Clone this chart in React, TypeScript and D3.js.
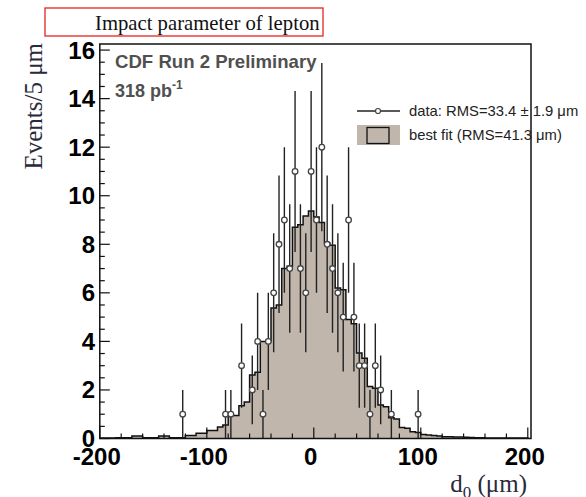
import React from "react";
import * as d3 from "d3";

const W = 586;
const H = 497;

// best-fit histogram: 5 um bins starting at -200
const fitLow = -200;
const binWidth = 5;
const fitValues = [
  0.02, 0.02, 0.02, 0.03, 0.03, 0.03, 0.1, 0.1, 0.03, 0.03,
  0.03, 0.1, 0.1, 0.03, 0.03, 0.03, 0.12, 0.12, 0.22, 0.22,
  0.33, 0.33, 0.47, 0.56, 0.95, 0.95, 1.35, 1.5, 2.62, 2.73,
  4.0, 4.0, 5.38, 5.5, 7.0, 7.1, 8.7, 8.8, 9.16, 9.37,
  9.12, 8.9, 8.05, 7.96, 6.2, 6.13, 4.9, 4.73, 3.52, 3.31,
  2.14, 2.07, 1.38, 1.31, 0.85, 0.8, 0.45, 0.42, 0.28, 0.25,
  0.16, 0.14, 0.12, 0.1, 0.07, 0.07, 0.06, 0.06, 0.05, 0.04,
  0.03, 0.03, 0.02, 0.02, 0.02, 0.02, 0.02, 0.02, 0.02, 0.02,
];

// data points (bin centres, counts)
const dataCenters = [
  -122.5, -82.5, -77.5, -67.5, -57.5, -52.5, -47.5, -42.5, -37.5, -32.5,
  -27.5, -22.5, -17.5, -12.5, -7.5, -2.5, 2.5, 7.5, 12.5, 17.5,
  22.5, 27.5, 32.5, 37.5, 42.5, 47.5, 52.5, 57.5, 62.5, 72.5, 97.5,
];
const dataCounts = [
  1, 1, 1, 3, 2, 4, 1, 4, 6, 8,
  9, 7, 11, 7, 6, 11, 9, 12, 8, 7,
  6, 5, 9, 5, 3, 3, 1, 3, 2, 1, 1,
];

const xTicks = [-200, -100, 0, 100, 200];
const yTicks = [0, 2, 4, 6, 8, 10, 12, 14, 16];

const sans = "'Liberation Sans', Arial, Helvetica, sans-serif";
const serif = "'Liberation Serif', 'Times New Roman', serif";

export default function App() {
  const x = d3.scaleLinear().domain([-200, 203]).range([99.8, 531]);
  const y = d3.scaleLinear().domain([0, 16.25]).range([438.5, 44]);

  const x0 = x.range()[0];
  const x1 = x.range()[1];
  const yTop = y.range()[1];
  const yBot = y.range()[0];

  // step path for fit histogram
  let stepPath = `M${x(fitLow)},${y(0)}`;
  fitValues.forEach((v, i) => {
    const lo = fitLow + i * binWidth;
    const hi = lo + binWidth;
    stepPath += `V${y(v)}H${x(hi)}`;
  });
  stepPath += `V${y(0)}`;
  const fillPath = stepPath + "Z";

  const yMinor = d3.range(0, 16.01, 0.5);
  const xMinor = d3.range(-200, 201, 20);

  return (
    <svg
      width={W}
      height={H}
      style={{ position: "absolute", left: 0, top: 0, background: "#fff" }}
    >
      {/* Title box */}
      <rect x={45} y={8} width={278} height={28} fill="none" stroke="#e02424" strokeWidth={1.3} />
      <text x={95} y={30} fontFamily={serif} fontSize={20.7} fill="#111">
        Impact parameter of lepton
      </text>

      <defs>
        <clipPath id="plotClip">
          <rect x={x0} y={yTop} width={x1 - x0} height={yBot - yTop} />
        </clipPath>
      </defs>

      {/* fit histogram */}
      <g clipPath="url(#plotClip)">
        <path d={fillPath} fill="#c0b6ab" stroke="none" />
        <path d={stepPath} fill="none" stroke="#111" strokeWidth={1.5} />
      </g>

      {/* data points */}
      <g clipPath="url(#plotClip)">
        {dataCenters.map((c, i) => {
          const n = dataCounts[i];
          const e = Math.sqrt(n);
          return (
            <line
              key={"e" + i}
              x1={x(c)}
              x2={x(c)}
              y1={y(Math.max(0, n - e))}
              y2={y(n + e)}
              stroke="#222"
              strokeWidth={1.4}
            />
          );
        })}
        {dataCenters.map((c, i) => (
          <circle
            key={"m" + i}
            cx={x(c)}
            cy={y(dataCounts[i])}
            r={2.8}
            fill="#fff"
            stroke="#444"
            strokeWidth={1.3}
          />
        ))}
      </g>

      {/* frame */}
      <rect x={x0} y={yTop} width={x1 - x0} height={yBot - yTop} fill="none" stroke="#111" strokeWidth={1.5} />

      {/* y ticks */}
      {yMinor.map((t) => {
        const major = Math.abs(t % 2) < 1e-9;
        return (
          <line key={"yt" + t} x1={x0} x2={x0 + (major ? 10 : 5)} y1={y(t)} y2={y(t)} stroke="#111" strokeWidth={1.2} />
        );
      })}
      {yTicks.map((t) => (
        <text key={"yl" + t} x={95} y={y(t) + 8.5} textAnchor="end" fontFamily={sans} fontWeight="bold" fontSize={24} fill="#000">
          {t}
        </text>
      ))}

      {/* x ticks */}
      {xMinor.map((t) => {
        const major = Math.abs(t % 100) < 1e-9;
        return (
          <line key={"xt" + t} x1={x(t)} x2={x(t)} y1={yBot} y2={yBot - (major ? 11 : 5)} stroke="#111" strokeWidth={1.2} />
        );
      })}
      {xTicks.map((t) => (
        <text key={"xl" + t} x={x(t) - 3} y={465} textAnchor="middle" fontFamily={sans} fontWeight="bold" fontSize={24} fill="#000">
          {t}
        </text>
      ))}

      {/* axis titles */}
      <text
        transform={`translate(42,43) rotate(-90)`}
        textAnchor="end"
        fontFamily={serif}
        fontSize={25}
        fill="#2a2a3a"
      >
        Events/5 μm
      </text>
      <text x={527} y={492} textAnchor="end" fontFamily={serif} fontSize={25} fill="#2a2a3a">
        d<tspan fontSize={17} dy={6}>0</tspan>
        <tspan dy={-6}> (μm)</tspan>
      </text>

      {/* CDF labels */}
      <text x={115} y={68} fontFamily={sans} fontWeight="bold" fontSize={18.6} fill="#505050">
        CDF Run 2 Preliminary
      </text>
      <text x={115} y={97} fontFamily={sans} fontWeight="bold" fontSize={18} fill="#505050">
        318 pb<tspan fontSize={12} dy={-8}>-1</tspan>
      </text>

      {/* legend */}
      <line x1={357} x2={400} y1={111} y2={111} stroke="#222" strokeWidth={1.3} />
      <circle cx={378} cy={111} r={2.5} fill="#fff" stroke="#444" strokeWidth={1.2} />
      <text x={409} y={116} fontFamily={sans} fontSize={14.8} fill="#222">
        data: RMS=33.4 ± 1.9 μm
      </text>
      <rect x={357} y={125} width={43} height={20} fill="#c0b6ab" />
      <rect x={367} y={127.5} width={22} height={16} fill="none" stroke="#111" strokeWidth={1.3} />
      <text x={409} y={140} fontFamily={sans} fontSize={14.8} fill="#222">
        best fit (RMS=41.3 μm)
      </text>
    </svg>
  );
}
